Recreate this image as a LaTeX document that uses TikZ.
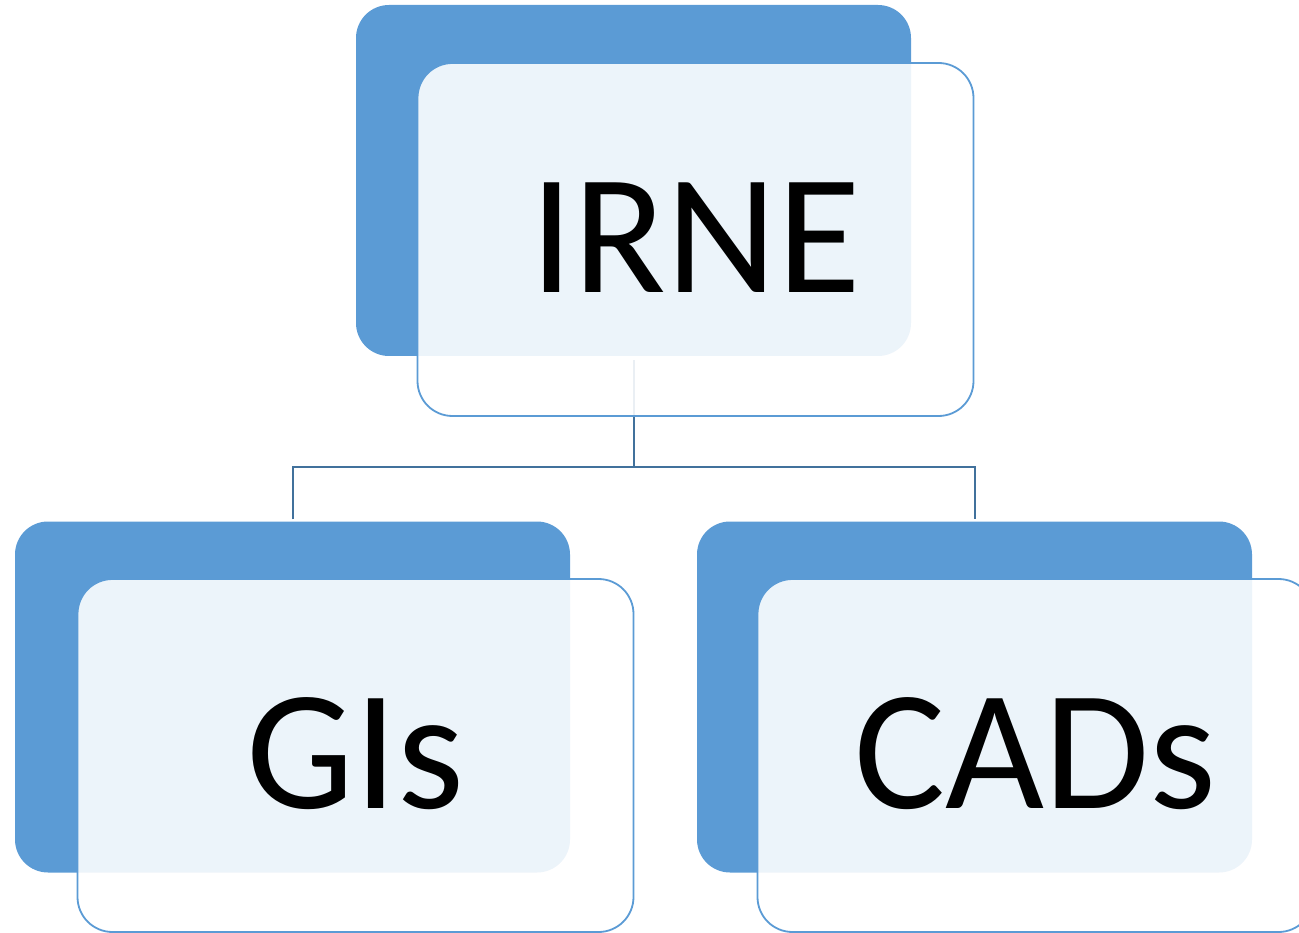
\documentclass[tikz,border=0pt]{standalone}
\usepackage{fontspec}
\setmainfont{Carlito}
\usetikzlibrary{positioning}
\definecolor{smartblue}{HTML}{5B9BD5}
\definecolor{linkblue}{HTML}{41719C}
\tikzset{
  backbox/.style={fill=smartblue, rounded corners=33pt, minimum width=555pt, minimum height=351pt, inner sep=0pt},
  frontbox/.style={draw=smartblue, line width=1.8pt, fill=white, fill opacity=0.89, text opacity=1,
    rounded corners=35pt, minimum width=556pt, minimum height=353pt, inner sep=0pt,
    font=\fontsize{171}{171}\selectfont},
  link/.style={draw=linkblue, line width=2pt}
}
\begin{document}
\begin{tikzpicture}[x=1pt,y=-1pt]
\useasboundingbox (0,0) rectangle (1299,933);
\clip (0,0) rectangle (1299,933);
% blue boxes behind
\node[backbox] (irneback) at (633.5,180.5) {};
\node[backbox] (gisback) at (292.5,697) {};
\node[backbox] (cadsback) at (974.5,697) {};
% tree lines
\coordinate (split) at (633.5,467);
\draw[link] ([yshift=-4pt]irneback.south) -- (split);
\draw[link] ([yshift=2pt]gisback.north) |- (split) -| ([yshift=2pt]cadsback.north);
% light boxes in front
\node[frontbox] (irne) at (695.5,239.5) {\raisebox{4pt}{IRNE}};
\node[frontbox] (gis) at (355.5,755.5) {\raisebox{4pt}{GIs}};
\node[frontbox] (cads) at (1035.5,755.5) {\raisebox{4pt}{CADs}};
\end{tikzpicture}
\end{document}
